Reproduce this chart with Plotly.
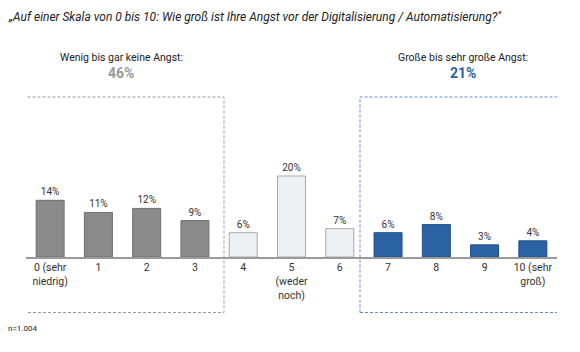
import plotly.graph_objects as go

categories = ["0", "1", "2", "3", "4", "5", "6", "7", "8", "9", "10"]
tick_labels = ["0 (sehr<br>niedrig)", "1", "2", "3", "4", "5<br>(weder<br>noch)", "6",
               "7", "8", "9", "10 (sehr<br>groß)"]
values = [14, 11, 12, 9, 6, 20, 7, 6, 8, 3, 4]
groups = ["low", "low", "low", "low", "mid", "mid", "mid", "high", "high", "high", "high"]
title_text = "„Auf einer Skala von 0 bis 10: Wie groß ist Ihre Angst vor der Digitalisierung / Automatisierung?\""
left_label = "Wenig bis gar keine Angst:"
left_share = "46%"
right_label = "Große bis sehr große Angst:"
right_share = "21%"
note = "n=1.004"

W, H = 580, 352
ML, MR, MT, MB = 26, 23, 100, 95
PW, PH = W - ML - MR, H - MT - MB

def px_x(px):
    return (px - ML) / PW

def px_y(py):
    return (H - MB - py) / PH

fill = {"low": "#8a8a8a", "mid": "#eef1f3", "high": "#2a62a3"}
line = {"low": "#707070", "mid": "#a8a8a8", "high": "#1f4f88"}

fig = go.Figure()
fig.add_trace(go.Bar(
    x=list(range(len(categories))), y=values,
    marker=dict(color=[fill[g] for g in groups],
                line=dict(color=[line[g] for g in groups], width=1)),
    width=0.58,
    text=[f"{v}%" for v in values], textposition="outside",
    textfont=dict(size=10, color="#333333", family="Roboto"),
    cliponaxis=False, hoverinfo="skip",
))

step = PW / 11.0
def dx(px):
    return (px - ML) / step - 0.5

# dashed boxes
fig.add_shape(type="rect", xref="x", yref="paper",
              x0=dx(18), x1=dx(224), y0=px_y(312.5), y1=px_y(97),
              line=dict(color="#9a9a9a", width=1, dash="3px,2px"))
fig.add_shape(type="rect", xref="x", yref="paper",
              x0=dx(360), x1=dx(566), y0=px_y(312.5), y1=px_y(97),
              line=dict(color="#5b8fd0", width=1, dash="3px,2px"))

def note_ann(text, x, y, size, color, anchor="center"):
    return dict(text=text, xref="paper", yref="paper", x=px_x(x), y=px_y(y),
                xanchor=anchor, yanchor="middle", showarrow=False,
                font=dict(size=size, color=color, family="Roboto"))

ann = [
    note_ann("<i>" + title_text + "</i>", 6, 17, 12, "#222222", "left"),
    note_ann(left_label, 121, 57, 10.5, "#222222"),
    note_ann("<b>" + left_share + "</b>", 121, 73, 14, "#999999"),
    note_ann(right_label, 463, 57, 10.5, "#222222"),
    note_ann("<b>" + right_share + "</b>", 463, 73, 14, "#2a62a3"),
    note_ann(note, 6, 328, 8, "#222222", "left"),
]

fig.update_layout(
    width=W, height=H,
    margin=dict(l=ML, r=MR, t=MT, b=MB),
    paper_bgcolor="white", plot_bgcolor="white",
    showlegend=False,
    annotations=ann,
    xaxis=dict(range=[-0.5, 10.5], tickmode="array",
               tickvals=list(range(len(categories))), ticktext=tick_labels,
               showgrid=False, zeroline=False, showline=True,
               linecolor="#9a9a9a", linewidth=1.5, ticks="",
               tickfont=dict(size=10.5, color="#333333", family="Roboto"),
               fixedrange=True),
    yaxis=dict(range=[0, PH / 4.05], visible=False, fixedrange=True),
)

fig.write_html("out.html", config={"displayModeBar": False})
